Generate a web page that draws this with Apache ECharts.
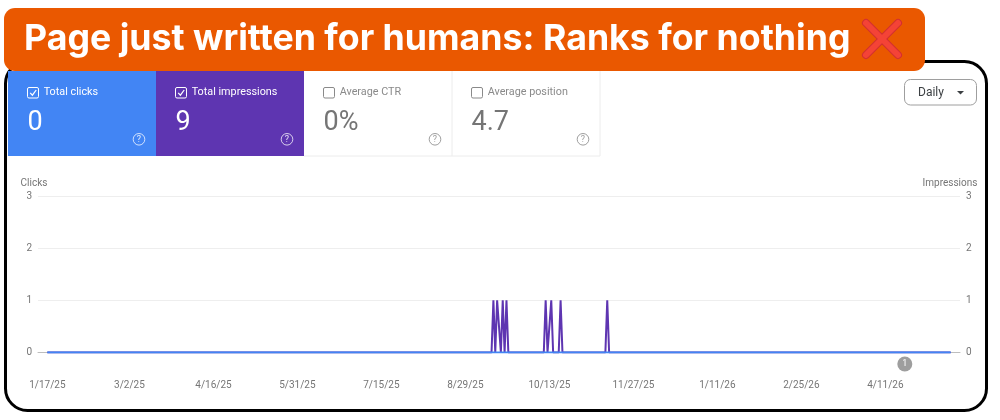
<!DOCTYPE html>
<html><head><meta charset="utf-8">
<style>html,body{margin:0;padding:0;background:#fff}#c{width:1000px;height:420px}</style>
<script src="https://cdn.jsdelivr.net/npm/echarts@6/dist/echarts.min.js"></script>
</head><body><div id="c"></div>
<script>
const title = 'Page just written for humans: Ranks for nothing';
const tickLabels = ['1/17/25','3/2/25','4/16/25','5/31/25','7/15/25','8/29/25','10/13/25','11/27/25','1/11/26','2/25/26','4/11/26'];
const yTicks = [0,1,2,3];
const cardNames = ['Total clicks','Total impressions','Average CTR','Average position'];
const cardValues = ['0','9','0%','4.7'];
const clickDates = ['2025-01-17','2026-05-16'];
const clickValues = [0,0];
const impressionDates = ['2025-01-17','2025-09-12','2025-09-13','2025-09-14','2025-09-15','2025-09-16','2025-09-17','2025-09-18','2025-09-19','2025-09-20','2025-09-21','2025-10-10','2025-10-11','2025-10-12','2025-10-13','2025-10-14','2025-10-15','2025-10-18','2025-10-19','2025-10-20','2025-11-12','2025-11-13','2025-11-14','2026-05-16'];
const impressionValues = [0,0,1,0,1,1,0,1,0,1,0,0,1,0,0,1,0,0,1,0,0,1,0,0];
const annotationDate = '2026-04-21';
const annotationText = '1';

const utc = s => Date.parse(s + 'T00:00:00Z');
const tickValues = tickLabels.map(l => { const [m,d,y] = l.split('/').map(Number); return Date.UTC(2000+y, m-1, d); });
const DAY = 86400000;
const axisMin = tickValues[0] - 5*DAY, axisMax = axisMin + 494*DAY;
const FONT = 'Roboto';

const g = [];
// outer frame
g.push({type:'rect',z:1,shape:{x:5.5,y:61.5,width:981,height:349,r:22},style:{fill:'none',stroke:'#000',lineWidth:3}});
// cards
const cx = [8,156,304,452], cw = 148, cardTop = 71, cardH = 85;
const fills = ['#4285F4','#5E35B1','#fff','#fff'];
cardNames.forEach((n,i)=>{
  const on = i<2, x = cx[i], fg = on?'#fff':'#757575';
  if(on) g.push({type:'rect',z:2,shape:{x,y:cardTop,width:cw,height:cardH},style:{fill:fills[i]}});
  else {
    g.push({type:'rect',z:2,shape:{x:x,y:cardTop,width:cw,height:cardH},style:{fill:'#fff'}});
    g.push({type:'polyline',z:3,shape:{points:[[x+cw,cardTop],[x+cw,cardTop+cardH],[x,cardTop+cardH]]},style:{fill:'none',stroke:'#ececec',lineWidth:1}});
  }
  g.push({type:'rect',z:3,shape:{x:x+19.5,y:87.5,width:11,height:10.5,r:1.5},style:{fill:'none',stroke:on?'#fff':'#8a8a8a',lineWidth:1}});
  if(on) g.push({type:'polyline',z:3,shape:{points:[[x+22.2,92.8],[x+24.4,95.2],[x+28.2,90]]},style:{fill:'none',stroke:'#fff',lineWidth:1.2}});
  g.push({type:'text',z:3,style:{x:x+35.7,y:92,text:n,font:'400 10.8px '+FONT,fill:on?'#fff':'#8a8a8a',verticalAlign:'middle'}});
  g.push({type:'text',z:3,style:{x:x+19.5,y:123,text:cardValues[i],font:'400 27px '+FONT,fill:fg,verticalAlign:'middle'}});
  g.push({type:'circle',z:3,shape:{cx:x+131,cy:139.3,r:5.8},style:{fill:'none',stroke:on?'rgba(255,255,255,.75)':'#9e9e9e',lineWidth:1}});
  g.push({type:'text',z:3,style:{x:x+131,y:139.8,text:'?',font:'400 9px '+FONT,fill:on?'rgba(255,255,255,.85)':'#9e9e9e',align:'center',verticalAlign:'middle'}});
});
// Daily control
g.push({type:'rect',z:3,shape:{x:904.5,y:79.5,width:72,height:25.5,r:6},style:{fill:'#fff',stroke:'#9e9e9e',lineWidth:1}});
g.push({type:'text',z:3,style:{x:918,y:92.5,text:'Daily',font:'400 12px '+FONT,fill:'#3c4043',verticalAlign:'middle'}});
g.push({type:'polygon',z:3,shape:{points:[[957,91],[964,91],[960.5,94.5]]},style:{fill:'#3c4043'}});
// banner
g.push({type:'rect',z:5,shape:{x:4,y:8,width:921,height:63,r:11},style:{fill:'#EA5800'}});
g.push({type:'text',z:6,style:{x:24,y:39,text:title,font:'700 35.7px Inter',fill:'#fff',verticalAlign:'middle'}});
[['#D32F2F',8],['#F44336',6]].forEach(([c,w])=>{
  g.push({type:'line',z:6,shape:{x1:866,y1:23,x2:898,y2:55},style:{stroke:c,lineWidth:w,lineCap:'round'}});
  g.push({type:'line',z:6,shape:{x1:898,y1:23,x2:866,y2:55},style:{stroke:c,lineWidth:w,lineCap:'round'}});
});

const yAxisBase = {
  type:'value',min:yTicks[0],max:yTicks[yTicks.length-1],interval:1,
  axisLine:{show:false},axisTick:{show:false},
  axisLabel:{color:'#757575',fontSize:10,fontFamily:FONT,margin:6,padding:[4,0,0,0]},
  nameLocation:'end',nameGap:8
};
const chart = echarts.init(document.getElementById('c'),null,{renderer:'canvas'});
chart.setOption({
  animation:false,backgroundColor:'#fff',
  grid:{left:38,right:40,top:196,bottom:67.5},
  graphic:g,
  xAxis:{type:'value',min:axisMin,max:axisMax,
    axisLine:{show:true,lineStyle:{color:'#bdbdbd',width:1}},axisTick:{show:false},splitLine:{show:false},
    axisLabel:{customValues:tickValues,color:'#757575',fontSize:10,fontFamily:FONT,margin:28,hideOverlap:false,
      formatter:v=>tickLabels[tickValues.indexOf(v)]||''}},
  yAxis:[
    Object.assign({},yAxisBase,{name:'Clicks',position:'left',
      nameTextStyle:{color:'#757575',fontSize:10,fontFamily:FONT,align:'center',padding:[0,8,0,0]},
      splitLine:{show:true,lineStyle:{color:'#eeeeee',width:1}}}),
    Object.assign({},yAxisBase,{name:'Impressions',position:'right',
      nameTextStyle:{color:'#757575',fontSize:10,fontFamily:FONT,align:'center',padding:[0,20,0,0]},
      splitLine:{show:false}})
  ],
  series:[
    {name:'Total impressions',type:'line',yAxisIndex:1,showSymbol:false,z:3,
      data:impressionDates.map((d,i)=>[utc(d),impressionValues[i]]),
      lineStyle:{color:'#5E35B1',width:2},itemStyle:{color:'#5E35B1'}},
    {name:'Total clicks',type:'line',yAxisIndex:0,showSymbol:false,z:4,
      data:clickDates.map((d,i)=>[utc(d),clickValues[i]]),
      lineStyle:{color:'#4285F4',width:2},itemStyle:{color:'#4285F4'},
      markPoint:{silent:true,symbol:'circle',symbolSize:15,symbolOffset:[0.8,11.5],
        itemStyle:{color:'#9e9e9e'},
        label:{show:true,formatter:annotationText,color:'#fff',fontSize:9,fontFamily:FONT,position:'inside'},
        data:[{coord:[utc(annotationDate),0]}]}}
  ]
});
</script></body></html>
